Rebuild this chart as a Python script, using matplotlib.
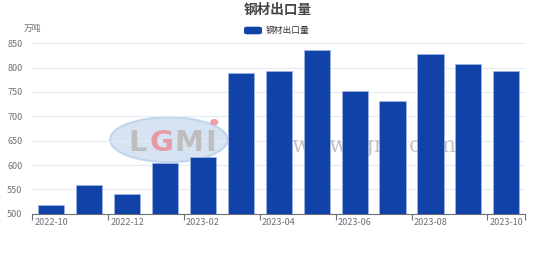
import matplotlib
matplotlib.use('Agg')
import matplotlib.pyplot as plt
from matplotlib.patches import Ellipse, FancyBboxPatch
import numpy as np

plt.rcParams['font.family'] = ['Noto Sans CJK SC', 'DejaVu Sans']

months = ['2022-10', '2022-11', '2022-12', '2023-01', '2023-02', '2023-03', '2023-04',
          '2023-05', '2023-06', '2023-07', '2023-08', '2023-09', '2023-10']
exports = [518, 559, 540, 604, 616, 790, 794, 836, 751, 731, 829, 808, 794]
yticks = [500, 550, 600, 650, 700, 750, 800, 850]

W, H = 554, 270
fig = plt.figure(figsize=(W / 100, H / 100), dpi=100)
ax = fig.add_axes([32.3 / W, (H - 213.7) / H, 493 / W, 170.4 / H])

x = np.arange(len(months))
ax.bar(x, exports, width=0.69, color='#1142A8', edgecolor='#9DB3E3', linewidth=0.6, zorder=3)

ax.set_xlim(-0.5, len(months) - 0.5)
ax.set_ylim(500, 850)
ax.set_yticks(yticks)
ax.set_yticklabels([str(v) for v in yticks], fontsize=6.5, color='#6E7079')
ax.tick_params(axis='y', length=0, pad=7)

# labels every other month, ticks on category boundaries
ax.set_xticks(x[::2])
ax.set_xticklabels(months[::2], fontsize=6.5, color='#6E7079')
ax.tick_params(axis='x', which='major', length=0, pad=3)
ax.set_xticks(np.arange(-0.5, len(months), 2).tolist() + [len(months) - 0.5], minor=True)
ax.tick_params(axis='x', which='minor', length=4, color='#6E7079', width=0.8)

ax.grid(axis='y', color='#E6EAF3', linewidth=0.8, zorder=0)
for s in ['top', 'right', 'left']:
    ax.spines[s].set_visible(False)
ax.spines['bottom'].set_color('#6E7079')
ax.spines['bottom'].set_linewidth(0.8)

# faint watermark behind the bars
ax.add_patch(Ellipse((3.1, 652), 3.1, 92, facecolor='#CFDFF1', edgecolor='#BBD1EA',
                     linewidth=1.5, alpha=0.85, zorder=1))
for ch, xp, col in [('L', 2.28, '#BEBEBE'), ('G', 2.9, '#E89AA4'), ('M', 3.62, '#BEBEBE'), ('I', 4.22, '#BEBEBE')]:
    ax.text(xp, 645, ch, fontsize=21, fontweight='bold', color=col, ha='center', va='center',
            family='DejaVu Sans', zorder=2)
ax.add_patch(Ellipse((4.3, 688), 0.22, 13, facecolor='#F0A0AC', edgecolor='none', zorder=2))
ax.text(6.35, 639, 'www.lgmi.com', fontsize=16, color='#C4C4C4', family='DejaVu Serif',
        ha='left', va='center', zorder=2)

fig.text(278 / W, 1 - 9.5 / H, '钢材出口量', ha='center', va='center', fontsize=9.8,
         fontweight='bold', color='#464646')
fig.patches.append(FancyBboxPatch((244 / W, 1 - 34.3 / H), 18 / W, 7.6 / H,
                   boxstyle='round,pad=0,rounding_size=0.006', transform=fig.transFigure,
                   facecolor='#1142A8', edgecolor='none'))
fig.text(266 / W, 1 - 30.3 / H, '钢材出口量', ha='left', va='center', fontsize=6.3, color='#333333')
fig.text(32.5 / W, 1 - 28.3 / H, '万吨', ha='center', va='center', fontsize=6.3, color='#6E7079')

fig.savefig('out.png', dpi=100)
